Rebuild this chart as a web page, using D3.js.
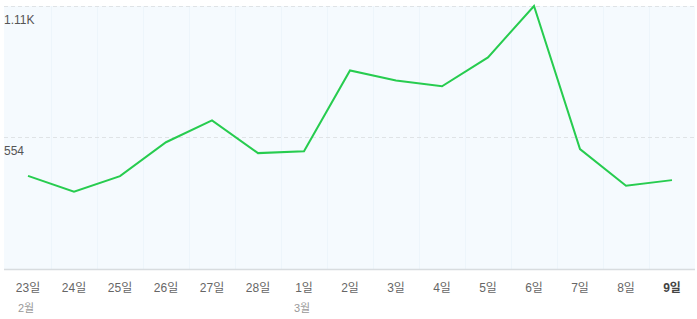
<!DOCTYPE html>
<html>
<head>
<meta charset="utf-8">
<script src="https://cdn.jsdelivr.net/npm/d3@7"></script>
<style>
  body { margin: 0; background: #fff; }
  text { font-family: "Liberation Sans", "Noto Sans CJK KR", sans-serif; }
</style>
</head>
<body>
<div id="GraphHolder"></div>
<script>
// data
var days = ["23일", "24일", "25일", "26일", "27일", "28일", "1일", "2일", "3일", "4일", "5일", "6일", "7일", "8일", "9일"];
var months = ["2월", "", "", "", "", "", "3월", "", "", "", "", "", "", "", ""];
var views = [391, 324, 390, 533, 625, 487, 495, 836, 794, 769, 891, 1108, 504, 349, 373];
var yTicks = [554, 1108];
var yTickLabels = ["554", "1.11K"];

var margin = {top: 6, right: 2, bottom: 50, left: 5},
    width = 697 - margin.left - margin.right,
    height = 319 - margin.top - margin.bottom;

var svg = d3.select("#GraphHolder").append("svg")
    .attr("width", 697)
    .attr("height", 319)
    .append("g")
    .attr("transform", "translate(" + margin.left + "," + margin.top + ")");

var x = d3.scaleBand()
    .domain(days)
    .range([0, 690]);
var y = d3.scaleLinear()
    .domain([0, 1108])
    .range([height - 0.5, 0]);

// plot background
svg.append("rect")
    .attr("x", -1)
    .attr("y", 0)
    .attr("width", width + 1)
    .attr("height", height)
    .style("fill", "#f5fafe");

// faint vertical separators between days
svg.selectAll(".vgrid")
    .data(days.slice(1))
    .enter().append("line")
    .attr("class", "vgrid")
    .attr("x1", function(d) { return x(d) + 0.5; })
    .attr("x2", function(d) { return x(d) + 0.5; })
    .attr("y1", 0)
    .attr("y2", height)
    .style("stroke", "#edf5fb")
    .style("stroke-width", 1);

// dashed horizontal gridlines
svg.selectAll(".grid")
    .data(yTicks)
    .enter().append("line")
    .attr("class", "grid")
    .attr("x1", -1)
    .attr("x2", width)
    .attr("y1", function(d) { return Math.round(y(d)) + 0.5; })
    .attr("y2", function(d) { return Math.round(y(d)) + 0.5; })
    .style("stroke", "#dfe3e6")
    .style("stroke-dasharray", "4,3");

// y labels sit just below their gridline
svg.selectAll(".ylabel")
    .data(yTicks)
    .enter().append("text")
    .attr("class", "ylabel")
    .attr("x", -1)
    .attr("y", function(d) { return y(d) + 18; })
    .style("font-size", "12px")
    .style("fill", "#555")
    .text(function(d, i) { return yTickLabels[i]; });

// bottom axis line
svg.append("line")
    .attr("x1", -1)
    .attr("x2", width)
    .attr("y1", height + 0.5)
    .attr("y2", height + 0.5)
    .style("stroke", "#d8dcdf")
    .style("stroke-width", 1.5);

// day labels
svg.selectAll(".xlabel")
    .data(days)
    .enter().append("text")
    .attr("class", "xlabel")
    .attr("x", function(d) { return x(d) + x.bandwidth() / 2; })
    .attr("y", height + 23)
    .style("text-anchor", "middle")
    .style("font-size", "12px")
    .style("fill", function(d, i) { return i === days.length - 1 ? "#444" : "#666"; })
    .style("font-weight", function(d, i) { return i === days.length - 1 ? "bold" : "normal"; })
    .text(function(d) { return d; });

// month labels
svg.selectAll(".mlabel")
    .data(days)
    .enter().append("text")
    .attr("class", "mlabel")
    .attr("x", function(d) { return x(d) + x.bandwidth() / 2 - 10; })
    .attr("y", height + 43)
    .style("font-size", "11px")
    .style("fill", "#999")
    .text(function(d, i) { return months[i]; });

// the line
var line = d3.line()
    .x(function(d, i) { return x(days[i]) + x.bandwidth() / 2; })
    .y(function(d) { return y(d); });

svg.append("path")
    .datum(views)
    .attr("d", line)
    .style("fill", "none")
    .style("stroke", "#27cc4f")
    .style("stroke-width", 2)
    .style("stroke-linejoin", "miter");
</script>
</body>
</html>
